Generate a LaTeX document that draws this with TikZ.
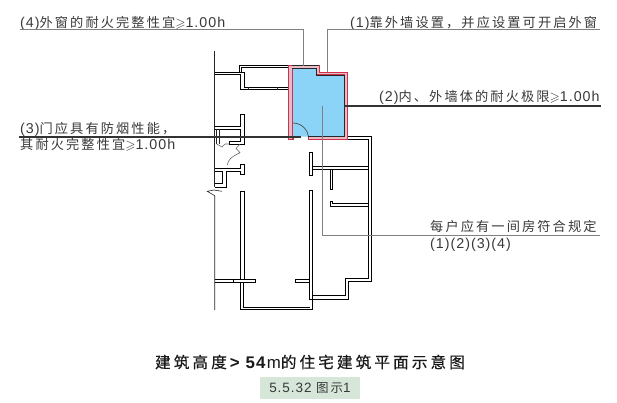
\documentclass[tikz,border=0pt]{standalone}
\usepackage{amssymb}
\usepackage{fontspec}
\setmainfont[Scale=1.08,LetterSpace=7]{Liberation Sans}
\newfontfamily\zh[LetterSpace=16]{Noto Sans CJK SC}
\newfontfamily\zhtitle[LetterSpace=20,FakeBold=0.5]{Noto Sans CJK SC}
\newcommand{\zhcomma}{\char"FF0C\relax}
\definecolor{roomblue}{HTML}{8BD3F7}
\definecolor{wallred}{HTML}{D0304A}
\definecolor{wallpink}{HTML}{E8BCC6}
\definecolor{boxgreen}{HTML}{D6E7DA}
\definecolor{labelgray}{gray}{0.22}
\tikzset{
	wall/.style={
		line width=1pt,
		color=black
	},
	thinwall/.style={
		line width=0.6pt,
		color=black!85
	},
	leaderlight/.style={
		line width=0.8pt,
		color=gray
	},
	leaderdark/.style={
		line width=1.8pt,
		color=black!80
	},
	labeltext/.style={
		anchor=base west,
		inner sep=0pt,
		color=labelgray,
		font=\fontsize{13.2}{15}\selectfont
	}
}
\begin{document}
\begin{tikzpicture}[x=1pt,y=-1pt]
	\useasboundingbox (0,0) rectangle (617,403);
	% Raum
	\fill[
		color=roomblue
	] (292,68.5) -- (316,68.5) -- (316,75) -- (344,75) -- (344,136.7) -- (292,136.7) -- cycle;
	\draw[
		line width=0.7pt,
		color=black!70
	] (293,123) arc (-90:0:15.5);
	% Wand (rot)
	\draw[
		line width=1pt,
		color=wallred,
		fill=wallpink
	] (288.7,66) -- (319.3,66) -- (319.3,72.3) -- (347.7,72.3) -- (347.7,139.3) -- (308.3,139.3) --
		(308.3,136.7) -- (344,136.7) -- (344,75) -- (316,75) -- (316,68.5) -- (292,68.5) --
		(292,139.3) -- (288.7,139.3) -- cycle;
	\draw[
		line width=1pt,
		color=wallred
	] (292,139.3) -- (293.7,139.3) -- (293.7,136.7) -- (292,136.7);
	\draw[
		thinwall
	] (292,68.5) -- (316,68.5) -- (316,75) -- (344,75) -- (344,136.7) -- (308.3,136.7);
	\draw[
		thinwall
	] (292,65.7) -- (319.3,65.7);
	% Grenzlinie links
	\draw[
		thinwall
	] (214.7,50.7) -- (214.7,187.3);
	\draw[
		thinwall
	] (221.7,191.3) -- (214,190) -- (207.3,191.3) -- (214.7,195.7) -- (214.7,310);
	% Balkon oben
	\draw[
		wall
	] (214.7,72.3) -- (239.3,72.3) -- (239.3,65.7) -- (288.2,65.7);
	\draw[
		wall
	] (241.7,72.3) -- (241.7,68) -- (288.2,68);
	\draw[
		wall
	] (214.7,75) -- (240.7,75) -- (240.7,90) -- (288.2,90);
	\draw[
		wall
	] (239.3,72.3) -- (244.3,72.3) -- (244.3,87.3) -- (288.2,87.3);
	\draw[
		thinwall
	] (248.3,87.3) -- (248.3,90);
	\draw[
		thinwall
	] (277.3,87.3) -- (277.3,90);
	% Eingang
	\draw[
		wall
	] (214.7,126.7) -- (240.7,126.7) -- (240.7,114.3) -- (244.3,114.3) -- (244.3,144.3) --
		(229.3,144.3) -- (229.3,141.7) -- (240.7,141.7) -- (240.7,129.3) -- (214.7,129.3);
	\draw[
		thinwall
	] (216.7,129.3) -- (216.7,144);
	\draw[
		thinwall
	] (219,129.3) -- (219,144);
	\draw[
		line width=0.6pt,
		color=black!60
	] (216.7,144) -- (222,147) -- (225,144) -- (229.3,144);
	\draw[
		line width=0.6pt,
		color=black!60
	] (227.3,165) .. controls (228,160) and (231,157) .. (240,152.7) -- (236,148.3) -- (240,144.3);
	% Wand Mitte links
	\draw[
		wall
	] (214.7,168.3) -- (240.7,168.3) -- (240.7,165) -- (244.3,165) -- (244.3,174.3) -- (240.7,174.3) --
		(240.7,171.7) -- (226,171.7) -- (226,187.3) -- (214.7,187.3);
	\draw[
		wall
	] (214.7,171.7) -- (222.7,171.7) -- (222.7,184) -- (214.7,184);
	% Lange Wand links
	\draw[
		wall
	] (240.7,279.3) -- (240.7,191.7) -- (244.3,191.7) -- (244.3,279.3);
	\draw[
		wall
	] (214.7,279.3) -- (255.3,279.3) -- (255.3,282.3) -- (233.3,282.3) -- (233.3,279.3);
	\draw[
		wall
	] (214.7,282.3) -- (233.3,282.3);
	% Balkon unten
	\draw[
		wall
	] (240.7,282.3) -- (240.7,309.3) -- (312,309.3) -- (312,299.3);
	\draw[
		wall
	] (243,282.3) -- (243,307) -- (310,307);
	\draw[
		wall
	] (295.3,279.3) -- (309.3,279.3);
	\draw[
		wall
	] (295.3,279.3) -- (295.3,282.3) -- (309.3,282.3);
	% Lange Wand rechts
	\draw[
		wall
	] (309.3,190.3) rectangle (312.3,299.3);
	\draw[
		wall
	] (312.3,166.7) -- (368.3,166.7);
	\draw[
		wall
	] (312.3,169.3) -- (368.3,169.3);
	\draw[
		wall
	] (309.3,152.7) rectangle (312.3,175.3);
	% Aussenwand rechts
	\draw[
		wall
	] (347.7,136.7) -- (371.3,136.7) -- (371.3,281.7) -- (348,281.7) -- (348,299.3) -- (312.3,299.3);
	\draw[
		wall
	] (347.7,139.3) -- (368.3,139.3) -- (368.3,278.7) -- (345.3,278.7) -- (345.3,295.7) -- (312.3,295.7);
	% Innenwaende
	\draw[
		wall
	] (330.3,169.3) -- (330.3,189.3) -- (332.7,189.3) -- (332.7,169.3);
	\draw[
		wall
	] (368.3,203.3) -- (332.7,203.3) -- (332.7,201.3) -- (330.3,201.3) -- (330.3,206.7) -- (368.3,206.7);
	% Beschriftung
	\node[labeltext] (outerwindow) at (20,27.5) {(4)\zh 外窗的耐火完整性宜\normalfont$\geqslant$1.00h};
	\node[labeltext] (outerwall) at (350,27.5) {(1)\zh 靠外墙设置\zhcomma 并应设置可开启外窗};
	\node[labeltext] (firelimit) at (379,102) {(2)\zh 内、外墙体的耐火极限\normalfont$\geqslant$1.00h};
	\node[labeltext] (doorone) at (20,133.5) {(3)\zh 门应具有防烟性能\zhcomma};
	\node[labeltext] (doortwo) at (20,150) {\zh 其耐火完整性宜\normalfont$\geqslant$1.00h};
	\node[labeltext] (eachflat) at (430,231.5) {\zh 每户应有一间房符合规定};
	\node[labeltext] (rulelist) at (430,248) {(1)(2)(3)(4)};
	% Hinweislinien
	\coordinate (windowend) at (20,29.3);
	\coordinate (windowknee) at (303.3,29.3);
	\coordinate (windowroom) at (303.3,65.7);
	\coordinate (wallend) at (600,29.3);
	\coordinate (wallknee) at (327.3,29.3);
	\coordinate (wallroom) at (327.3,72.3);
	\coordinate (limitroom) at (343.5,106);
	\coordinate (limitend) at (601,106);
	\coordinate (doorend) at (19,136.7);
	\coordinate (doorroom) at (300.7,136.7);
	\coordinate (flatroom) at (322.3,106);
	\coordinate (flatknee) at (322.3,235);
	\coordinate (flatend) at (600,235);
	\draw[leaderlight] (windowend) -- (windowknee) -- (windowroom);
	\draw[leaderlight] (wallend) -- (wallknee) -- (wallroom);
	\draw[leaderdark] (limitroom) -- (limitend);
	\draw[leaderdark] (doorend) -- (doorroom);
	\draw[leaderlight] (flatroom) -- (flatknee) -- (flatend);
	% Titel
	\node[
		anchor=base,
		inner sep=0pt,
		color=black!90,
		font=\fontsize{15.6}{18}\selectfont
	] (plantitle) at (310,368) {\zhtitle 建筑高度\normalfont\textbf{> 54}m\zhtitle 的住宅建筑平面示意图};
	\node[
		fill=boxgreen,
		minimum width=100pt,
		minimum height=22.6pt,
		inner sep=0pt
	] (figurebox) at (310,388) {};
	\node[
		anchor=base,
		inner sep=0pt,
		color=labelgray,
		font=\fontsize{12.5}{15}\selectfont
	] (figurenumber) at (figurebox.center |- 0,392) {5.5.32 {\zh 图示}1};
\end{tikzpicture}
\end{document}
